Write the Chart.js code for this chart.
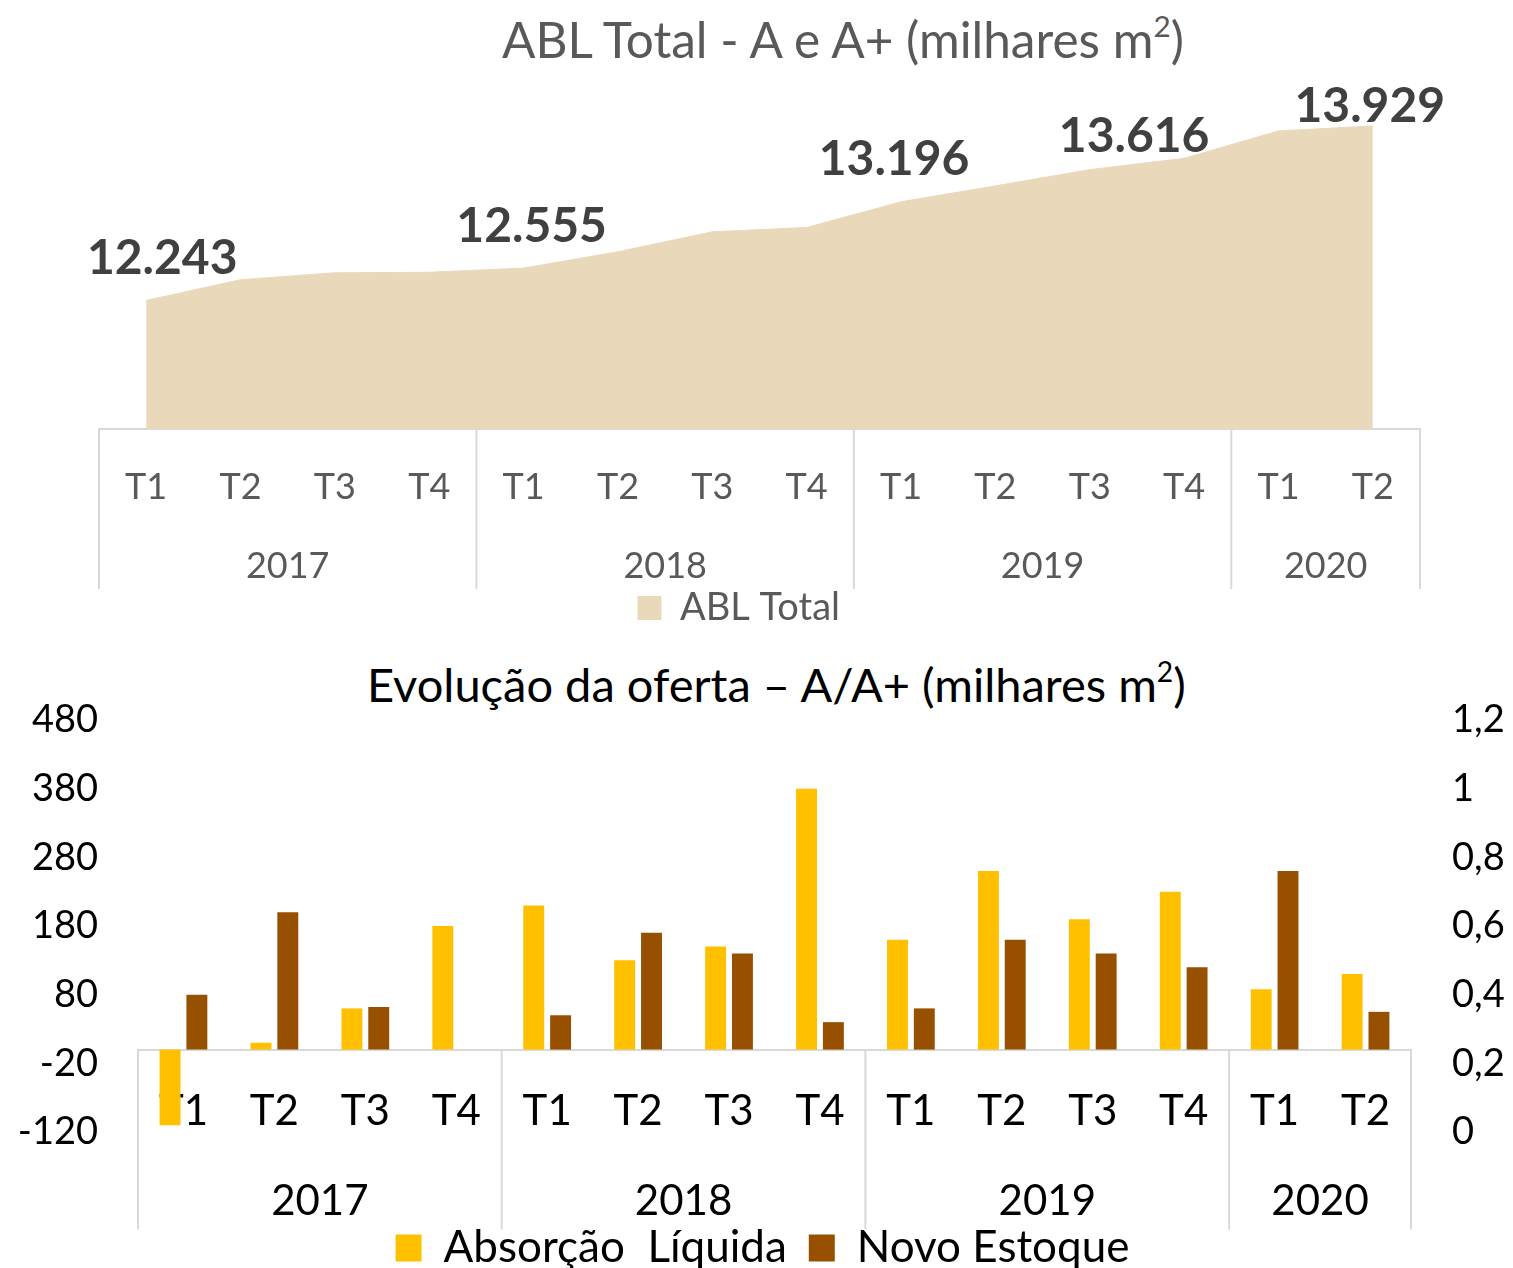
<!DOCTYPE html>
<html lang="pt-BR">
<head>
<meta charset="UTF-8">
<title>ABL Total e Evolução da oferta</title>
<script src="https://cdn.jsdelivr.net/npm/chart.js"></script>
<style>
    body {
        margin: 0;
        background: #fff;
        font-family: Lato, sans-serif;
        width: 1513px;
        height: 1268px;
        overflow: hidden;
        position: relative;
    }
    .titulo {
        position: absolute;
        white-space: nowrap;
        line-height: 56px;
    }
    .titulo sup {
        font-size: 0.6em;
        line-height: 0;
        vertical-align: 0.7em;
    }
    #tituloAbl { top: 11px; left: 502px; font-size: 49.5px; color: #595959; }
    #tituloOferta { top: 656px; left: 367px; font-size: 47px; color: #000; }
    .quadro { position: absolute; left: 0; width: 1513px; }
    #quadroAbl { top: 0; height: 637px; }
    #quadroOferta { top: 640px; height: 660px; }
</style>
</head>
<body>
<div class="titulo" id="tituloAbl">ABL Total - A e A+ (milhares m<sup>2</sup>)</div>
<div class="titulo" id="tituloOferta">Evolução da oferta – A/A+ (milhares m<sup>2</sup>)</div>
<div class="quadro" id="quadroAbl"><canvas id="ablChart"></canvas></div>
<div class="quadro" id="quadroOferta"><canvas id="ofertaChart"></canvas></div>

<script>
    // categorias
    const trimestres = ['T1', 'T2', 'T3', 'T4', 'T1', 'T2', 'T3', 'T4', 'T1', 'T2', 'T3', 'T4', 'T1', 'T2'];
    const anos = ['2017', '2018', '2019', '2020'];
    const trimestresPorAno = [4, 4, 4, 2];

    // ABL total (milhares m2)
    const ablTotal = [12243, 12443, 12510, 12515, 12555, 12713, 12906, 12948, 13196, 13350, 13507, 13616, 13881, 13929];
    const ablRotulados = [0, 4, 8, 11, 13];

    // evolução da oferta
    const absorcao = [-110, 10, 60, 180, 210, 130, 150, 380, 160, 260, 190, 230, 88, 110];
    const novoEstoque = [80, 200, 62, 0, 50, 170, 140, 40, 60, 160, 140, 120, 260, 55];

    // eixos
    const eixoEsq = [-120, -20, 80, 180, 280, 380, 480];
    const eixoDir = ['0', '0,2', '0,4', '0,6', '0,8', '1', '1,2'];

    const milhar = v => String(v).replace(/\B(?=(\d{3})+(?!\d))/g, '.');

    // anos por baixo dos trimestres + separadores
    const grupos = {
        id: 'grupos',
        afterDraw(chart, args, opts) {
            const x = chart.scales.x, ctx = chart.ctx;
            const y0 = chart.scales.y.getPixelForValue(opts.base);
            const meio = (x.getPixelForValue(1) - x.getPixelForValue(0)) / 2;
            ctx.save();
            ctx.strokeStyle = '#D9D9D9';
            ctx.lineWidth = 2;
            ctx.fillStyle = opts.color;
            ctx.font = opts.font;
            ctx.textAlign = 'center';
            ctx.textBaseline = 'middle';
            let i = 0;
            const linha = px => {
                ctx.beginPath();
                ctx.moveTo(px, y0);
                ctx.lineTo(px, y0 + opts.depth);
                ctx.stroke();
            };
            linha(x.getPixelForValue(0) - meio);
            anos.forEach((ano, k) => {
                const ini = x.getPixelForValue(i) - meio;
                i += trimestresPorAno[k];
                const fim = x.getPixelForValue(i - 1) + meio;
                linha(fim);
                ctx.fillText(ano, (ini + fim) / 2, y0 + opts.labelOffset);
            });
            ctx.restore();
        }
    };

    const rotulos = {
        id: 'rotulos',
        afterDatasetsDraw(chart, args, opts) {
            const meta = chart.getDatasetMeta(0), ctx = chart.ctx;
            ctx.save();
            ctx.font = opts.font;
            ctx.fillStyle = opts.color;
            ctx.textAlign = 'center';
            ctx.textBaseline = 'middle';
            ablRotulados.forEach(i => {
                const p = meta.data[i];
                const d = opts.shift[i] || opts.shift.padrao;
                ctx.fillText(milhar(ablTotal[i]), p.x + d[0], p.y + d[1]);
            });
            ctx.restore();
        }
    };

    function desenhar() {
        // gráfico de área - ABL total
        new Chart(document.getElementById('ablChart'), {
            type: 'line',
            data: {
                labels: trimestres,
                datasets: [{
                    label: 'ABL Total',
                    data: ablTotal,
                    fill: 'start',
                    backgroundColor: '#EAD8BB',
                    borderColor: '#EAD8BB',
                    borderWidth: 1,
                    pointRadius: 0,
                    tension: 0
                }]
            },
            options: {
                responsive: true,
                maintainAspectRatio: false,
                animation: false,
                layout: { padding: { top: 70, left: 58, right: 93, bottom: 0 } },
                scales: {
                    x: {
                        offset: true,
                        grid: { display: false },
                        border: { color: '#D9D9D9', width: 2 },
                        ticks: { color: '#595959', font: { family: 'Lato', size: 36 }, padding: 29, autoSkip: false, maxRotation: 0 },
                        afterFit: s => { s.height = 160; }
                    },
                    y: {
                        min: 11000,
                        max: 14470,
                        grid: { display: false, drawTicks: false },
                        border: { display: false },
                        ticks: { display: false },
                        afterFit: s => { s.width = 41; }
                    }
                },
                plugins: {
                    legend: {
                        position: 'bottom',
                        labels: { color: '#595959', font: { family: 'Lato', size: 38 }, boxWidth: 23, boxHeight: 23, padding: 0 }
                    },
                    tooltip: { enabled: false },
                    grupos: { base: 11000, depth: 160, labelOffset: 137, color: '#595959', font: '36px Lato' },
                    rotulos: {
                        font: 'bold 48px Lato',
                        color: '#404040',
                        shift: { padrao: [8, -42], 0: [16, -42], 8: [-7, -42], 11: [-50, -22], 13: [-3, -19] }
                    }
                }
            },
            plugins: [grupos, rotulos]
        });

        // gráfico de barras - evolução da oferta
        new Chart(document.getElementById('ofertaChart'), {
            type: 'bar',
            data: {
                labels: trimestres,
                datasets: [{
                    label: 'Absorção  Líquida',
                    data: absorcao,
                    backgroundColor: '#FFC000',
                    xAxisID: 'x',
                    yAxisID: 'y',
                    categoryPercentage: 0.59,
                    barPercentage: 0.78
                }, {
                    label: 'Novo Estoque',
                    data: novoEstoque,
                    backgroundColor: '#975000',
                    xAxisID: 'x',
                    yAxisID: 'y',
                    categoryPercentage: 0.59,
                    barPercentage: 0.78
                }]
            },
            options: {
                responsive: true,
                maintainAspectRatio: false,
                animation: false,
                layout: { padding: { top: 80, left: 20, right: 8, bottom: 20 } },
                scales: {
                    x: {
                        position: { y: 0 },
                        z: 1,
                        grid: { display: false },
                        border: { color: '#D9D9D9', width: 2 },
                        ticks: { color: '#000', font: { family: 'Lato', size: 42 }, padding: 29, autoSkip: false, maxRotation: 0 }
                    },
                    xb: {
                        position: 'bottom',
                        grid: { display: false },
                        border: { display: false },
                        ticks: { display: false },
                        afterFit: s => { s.height = 72; }
                    },
                    y: {
                        position: 'left',
                        min: eixoEsq[0],
                        max: eixoEsq[eixoEsq.length - 1],
                        grid: { display: false, drawTicks: false },
                        border: { display: false },
                        ticks: { stepSize: eixoEsq[1] - eixoEsq[0], color: '#000', font: { family: 'Lato', size: 38 }, padding: 40 },
                        afterFit: s => { s.width = 118; }
                    },
                    y1: {
                        position: 'right',
                        min: 0,
                        max: 1.2,
                        grid: { display: false, drawTicks: false },
                        border: { display: false },
                        ticks: {
                            stepSize: 0.2,
                            color: '#000',
                            font: { family: 'Lato', size: 38 },
                            padding: 41,
                            callback: (v, i) => eixoDir[i] ?? String(v).replace('.', ',')
                        },
                        afterFit: s => { s.width = 94; }
                    }
                },
                plugins: {
                    legend: {
                        position: 'bottom',
                        labels: { color: '#000', font: { family: 'Lato', size: 44 }, boxWidth: 26, boxHeight: 27, padding: 22 }
                    },
                    tooltip: { enabled: false },
                    grupos: { base: 0, depth: 180, labelOffset: 152, color: '#000', font: '42px Lato' }
                }
            },
            plugins: [grupos]
        });
    }

    Promise.all([
        document.fonts.load('36px Lato'),
        document.fonts.load('bold 48px Lato')
    ]).then(desenhar, desenhar);
</script>
</body>
</html>
